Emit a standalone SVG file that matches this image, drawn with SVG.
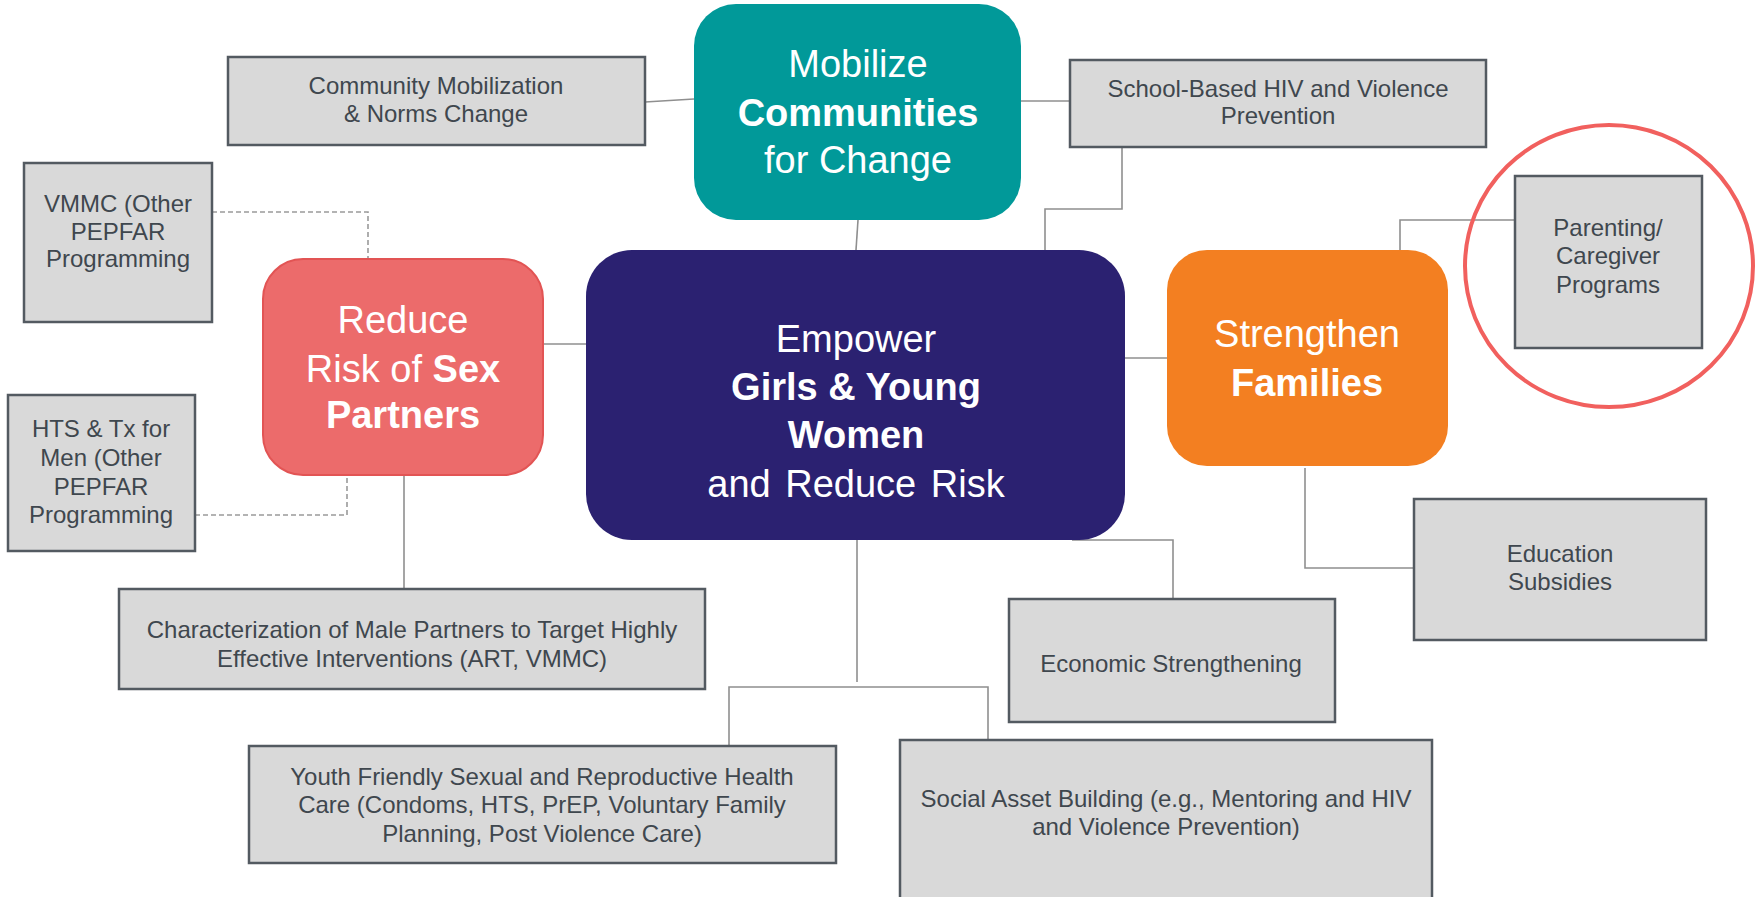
<svg xmlns="http://www.w3.org/2000/svg" width="1760" height="897" viewBox="0 0 1760 897">
<style>
.box{fill:#d9d9d9;stroke:#535a61;stroke-width:2.5}
.bt{font-family:"Liberation Sans",Arial,sans-serif;font-size:24px;fill:#3f474e;text-anchor:middle}
.big{font-family:"Liberation Sans",Arial,sans-serif;font-size:38px;fill:#ffffff;text-anchor:middle}
.b{font-weight:bold}
.con{fill:none;stroke:#8f8f8f;stroke-width:1.6}
.dash{fill:none;stroke:#9a9a9a;stroke-width:1.6;stroke-dasharray:5 3}
</style>
<rect width="1760" height="897" fill="#ffffff"/>
<g id="connectors">
<path class="con" d="M645,102 L694,99"/>
<path class="con" d="M1021,101 H1070"/>
<path class="con" d="M858,220 L856,250"/>
<path class="con" d="M1122,142 V209 H1045 V250"/>
<path class="con" d="M543,344 H586"/>
<path class="con" d="M1125,358 H1167"/>
<path class="con" d="M1515,220 H1400 V255"/>
<path class="con" d="M1305,468 V568 H1413"/>
<path class="con" d="M1072,540 H1173 V599"/>
<path class="con" d="M857,540 V682"/>
<path class="con" d="M729,746 V687 H988 V740"/>
<path class="con" d="M404,475 V588"/>
<path class="dash" d="M212,212 H368 V258"/>
<path class="dash" d="M195,515 H347 V477"/>
</g>
<g id="mobilize">
<rect x="694" y="4" width="327" height="216" rx="42" fill="#019999"/>
<text class="big" x="858" y="77">Mobilize</text>
<text class="big b" x="858" y="126">Communities</text>
<text class="big" x="858" y="173">for Change</text>
</g>
<g id="empower">
<rect x="586" y="250" width="539" height="290" rx="46" fill="#2b2171"/>
<text class="big" x="856" y="352">Empower</text>
<text class="big b" x="856" y="400">Girls &amp; Young</text>
<text class="big b" x="856" y="448">Women</text>
<text class="big" x="856" y="497" word-spacing="4">and Reduce Risk</text>
</g>
<g id="reduce">
<rect x="263" y="259" width="280" height="216" rx="40" fill="#ec6b6b" stroke="#e25454" stroke-width="2"/>
<text class="big" x="403" y="333">Reduce</text>
<text class="big" x="403" y="382">Risk of <tspan class="b">Sex</tspan></text>
<text class="big b" x="403" y="428">Partners</text>
</g>
<g id="strengthen">
<rect x="1167" y="250" width="281" height="216" rx="40" fill="#f37f21"/>
<text class="big" x="1307" y="347">Strengthen</text>
<text class="big b" x="1307" y="396">Families</text>
</g>
<g id="community">
<rect class="box" x="228" y="57" width="417" height="88"/>
<text class="bt" x="436" y="94">Community Mobilization</text>
<text class="bt" x="436" y="122">&amp; Norms Change</text>
</g>
<g id="school">
<rect class="box" x="1070" y="60" width="416" height="87"/>
<text class="bt" x="1278" y="97">School-Based HIV and Violence</text>
<text class="bt" x="1278" y="124">Prevention</text>
</g>
<g id="parenting">
<rect class="box" x="1515" y="176" width="187" height="172"/>
<text class="bt" x="1608" y="236">Parenting/</text>
<text class="bt" x="1608" y="264">Caregiver</text>
<text class="bt" x="1608" y="293">Programs</text>
</g>
<g id="highlight">
<ellipse cx="1609" cy="266" rx="144" ry="141" fill="none" stroke="#f1605e" stroke-width="4"/>
</g>
<g id="vmmc">
<rect class="box" x="24" y="163" width="188" height="159"/>
<text class="bt" x="118" y="212">VMMC (Other</text>
<text class="bt" x="118" y="240">PEPFAR</text>
<text class="bt" x="118" y="267">Programming</text>
</g>
<g id="hts">
<rect class="box" x="8" y="395" width="187" height="156"/>
<text class="bt" x="101" y="437">HTS &amp; Tx for</text>
<text class="bt" x="101" y="466">Men (Other</text>
<text class="bt" x="101" y="495">PEPFAR</text>
<text class="bt" x="101" y="523">Programming</text>
</g>
<g id="characterization">
<rect class="box" x="119" y="589" width="586" height="100"/>
<text class="bt" x="412" y="638">Characterization of Male Partners to Target Highly</text>
<text class="bt" x="412" y="667">Effective Interventions (ART, VMMC)</text>
</g>
<g id="youth">
<rect class="box" x="249" y="746" width="587" height="117"/>
<text class="bt" x="542" y="785">Youth Friendly Sexual and Reproductive Health</text>
<text class="bt" x="542" y="813">Care (Condoms, HTS, PrEP, Voluntary Family</text>
<text class="bt" x="542" y="842">Planning, Post Violence Care)</text>
</g>
<g id="economic">
<rect class="box" x="1009" y="599" width="326" height="123"/>
<text class="bt" x="1171" y="672">Economic Strengthening</text>
</g>
<g id="social">
<rect class="box" x="900" y="740" width="532" height="162"/>
<text class="bt" x="1166" y="807">Social Asset Building (e.g., Mentoring and HIV</text>
<text class="bt" x="1166" y="835">and Violence Prevention)</text>
</g>
<g id="education">
<rect class="box" x="1414" y="499" width="292" height="141"/>
<text class="bt" x="1560" y="562">Education</text>
<text class="bt" x="1560" y="590">Subsidies</text>
</g>
</svg>
